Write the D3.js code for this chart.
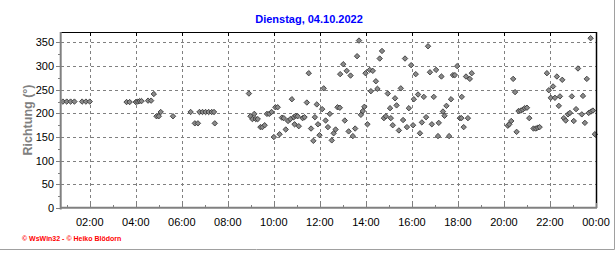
<!DOCTYPE html>
<html><head><meta charset="utf-8">
<script src="https://cdn.jsdelivr.net/npm/d3@7/dist/d3.min.js"></script>
<style>body{margin:0;background:#fff}svg{display:block;font-family:Arial,"Liberation Sans",sans-serif}</style>
</head><body><svg id="c" width="616" height="253"></svg>
<script>
const title = "Dienstag, 04.10.2022";
const yLabel = "Richtung (°)";
const credit = "© WsWin32 - © Heiko Blödorn";

const times = [
 "00:50","01:00","01:10","01:20","01:40","01:50","02:00",
 "03:36","03:44","04:00","04:05","04:10","04:15","04:32","04:40","04:47","04:54","05:00","05:05","05:37",
 "06:23","06:34","06:42","06:46","06:54","07:02","07:10","07:18","07:24","07:26",
 "08:55","08:59","09:04","09:09","09:13","09:18","09:25","09:30","09:36","09:42","09:48","09:54",
 "10:00","10:04","10:10","10:15","10:21","10:26","10:31","10:37","10:43","10:47","10:52","10:54","10:57",
 "11:02","11:05","11:15","11:20","11:26","11:31","11:37","11:43","11:47","11:52","11:55","11:59",
 "12:06","12:10","12:15","12:21","12:26","12:31","12:36","12:41","12:46","12:52","12:53",
 "13:01","13:05","13:10","13:15","13:20","13:26","13:32","13:37","13:42","13:47","13:52","13:56","13:59",
 "14:04","14:10","14:13","14:18","14:26","14:30","14:36","14:42","14:47","14:52","14:57",
 "15:03","15:05","15:10","15:16","15:20","15:26","15:31","15:37","15:42","15:47","15:52","15:58",
 "16:03","16:05","16:10","16:16","16:21","16:26","16:31","16:37","16:42","16:47","16:52","16:57",
 "17:03","17:08","17:10","17:17","17:21","17:25","17:30","17:37","17:42","17:47","17:52","17:58",
 "18:05","18:09","18:10","18:15","18:21","18:26","18:31","18:36",
 "20:10","20:14","20:19","20:24","20:29","20:33","20:38","20:44","20:49","20:54","21:00","21:06",
 "21:17","21:23","21:28","21:33","21:52","21:57",
 "22:02","22:08","22:13","22:18","22:23","22:26","22:32","22:36","22:41","22:47","22:52","22:57",
 "23:02","23:08","23:13","23:23","23:26","23:31","23:36","23:41","23:46","23:47","23:52","23:57"
];
const values = [
 225,225,225,225,225,225,225,
 224,224,224,225,226,226,227,227,241,194,194,203,194,
 203,179,179,203,203,203,203,203,203,179,
 242,194,188,199,188,188,171,171,175,199,199,203,
 150,213,213,156,191,190,166,184,188,230,192,177,195,
 194,173,190,192,223,285,168,142,192,219,177,154,
 209,253,185,171,199,143,158,166,213,212,283,
 304,185,290,162,280,152,168,321,354,197,205,214,285,
 177,292,247,290,268,252,316,332,190,194,242,
 211,190,175,232,217,164,253,186,316,171,211,302,
 175,230,283,240,158,181,235,192,342,287,177,235,
 292,152,180,278,204,195,216,152,230,281,281,300,
 190,190,235,171,278,190,273,285,
 174,177,184,273,245,161,205,206,208,211,212,190,
 168,168,170,171,285,249,
 233,257,233,278,216,236,271,190,185,198,201,236,
 184,209,295,198,237,180,273,201,359,204,206,156
];
const xTickHours = [2,4,6,8,10,12,14,16,18,20,22,24];
const xTickLabels = ["02:00","04:00","06:00","08:00","10:00","12:00","14:00","16:00","18:00","20:00","22:00","00:00"];
const yTicks = [0,50,100,150,200,250,300,350];

const svg = d3.select("#c");
const L = 61, R = 596, T = 33, B = 208;
const x = d3.scaleLinear().domain([0.75, 24]).range([L, R]);
const y = d3.scaleLinear().domain([0, 370]).range([B, T]);
const toH = s => { const [h, m] = s.split(":").map(Number); return h + m / 60; };
const data = times.map((t, i) => ({h: toH(t), v: values[i]}));

// outer frame (right/bottom)
svg.append("line").attr("x1",614.5).attr("x2",614.5).attr("y1",0).attr("y2",249.5).attr("stroke","#a0a0a0").attr("stroke-width",1);
svg.append("line").attr("x1",0).attr("x2",614.5).attr("y1",249.5).attr("y2",249.5).attr("stroke","#a0a0a0").attr("stroke-width",1);

// title
svg.append("text").attr("x",309).attr("y",23).attr("text-anchor","middle")
  .attr("font-size","11px").attr("font-weight","bold").attr("fill","#0000ff").text(title);

// grid
const g = svg.append("g");
g.selectAll(".hg").data(yTicks.filter(d => d > 0)).join("line")
  .attr("x1",L).attr("x2",R).attr("y1",d => Math.round(y(d))+0.5).attr("y2",d => Math.round(y(d))+0.5)
  .attr("stroke","#808080").attr("stroke-dasharray","3,3");
g.selectAll(".vg").data(xTickHours.filter(d => d < 24)).join("line")
  .attr("y1",T).attr("y2",B).attr("x1",d => Math.round(x(d))+0.5).attr("x2",d => Math.round(x(d))+0.5)
  .attr("stroke","#808080").attr("stroke-dasharray","3,3");

// points
const diamond = "M0,-2.7L2.7,0L0,2.7L-2.7,0Z";
svg.append("g").selectAll("path").data(data).join("path")
  .attr("d", diamond)
  .attr("transform", d => `translate(${x(d.h)},${y(d.v)})`)
  .attr("fill","#8a8a8a").attr("stroke","#3a3a3a").attr("stroke-width",0.9);

// frame: top & right black
svg.append("line").attr("x1",L).attr("x2",R+1).attr("y1",T-0.5).attr("y2",T-0.5).attr("stroke","#000");
svg.append("line").attr("x1",R+0.5).attr("x2",R+0.5).attr("y1",T-1).attr("y2",B).attr("stroke","#000").attr("stroke-width",1.5);

// top ticks
svg.append("g").selectAll("line").data(xTickHours.filter(d => d < 24)).join("line")
  .attr("x1",d => Math.round(x(d))+0.5).attr("x2",d => Math.round(x(d))+0.5)
  .attr("y1",T).attr("y2",T+3).attr("stroke","#000");

// left axis
const minorY = d3.range(25, 370, 50);
svg.append("g").selectAll("line").data(yTicks).join("line")
  .attr("x1",56).attr("x2",60).attr("y1",d => Math.round(y(d))+0.5).attr("y2",d => Math.round(y(d))+0.5)
  .attr("stroke","#808080");
svg.append("g").selectAll("line").data(minorY).join("line")
  .attr("x1",58).attr("x2",60).attr("y1",d => Math.round(y(d))+0.5).attr("y2",d => Math.round(y(d))+0.5)
  .attr("stroke","#808080");
svg.append("line").attr("x1",60.7).attr("x2",60.7).attr("y1",T-1).attr("y2",B+1.5).attr("stroke","#808080").attr("stroke-width",2);

// bottom axis
const minorX = d3.range(1, 24, 2);
svg.append("g").selectAll("line").data(xTickHours).join("line")
  .attr("x1",d => Math.round(x(d))+0.5).attr("x2",d => Math.round(x(d))+0.5)
  .attr("y1",B).attr("y2",B-5).attr("stroke","#808080");
svg.append("g").selectAll("line").data(minorX).join("line")
  .attr("x1",d => Math.round(x(d))+0.5).attr("x2",d => Math.round(x(d))+0.5)
  .attr("y1",B).attr("y2",B-3).attr("stroke","#808080");
svg.append("line").attr("x1",L-1).attr("x2",R+1).attr("y1",B-0.3).attr("y2",B-0.3).attr("stroke","#808080").attr("stroke-width",2);

// tick labels
svg.append("g").selectAll("text").data(yTicks).join("text")
  .attr("x",54).attr("y",d => y(d)).attr("dy","0.36em").attr("text-anchor","end")
  .attr("font-size","11px").attr("fill","#000").text(d => d);
svg.append("g").selectAll("text").data(xTickHours).join("text")
  .attr("x",d => x(d)).attr("y",226).attr("text-anchor","middle")
  .attr("font-size","11px").attr("fill","#000").text((d,i) => xTickLabels[i]);

// y title
svg.append("text").attr("transform","translate(31.5,120) rotate(-90)").attr("text-anchor","middle")
  .attr("font-size","12.5px").attr("font-weight","bold").attr("fill","#808080").text(yLabel);

// credit
svg.append("text").attr("x",22).attr("y",240.5).attr("font-size","7px").attr("font-weight","bold")
  .attr("fill","#ff0000").text(credit);
</script></body></html>
